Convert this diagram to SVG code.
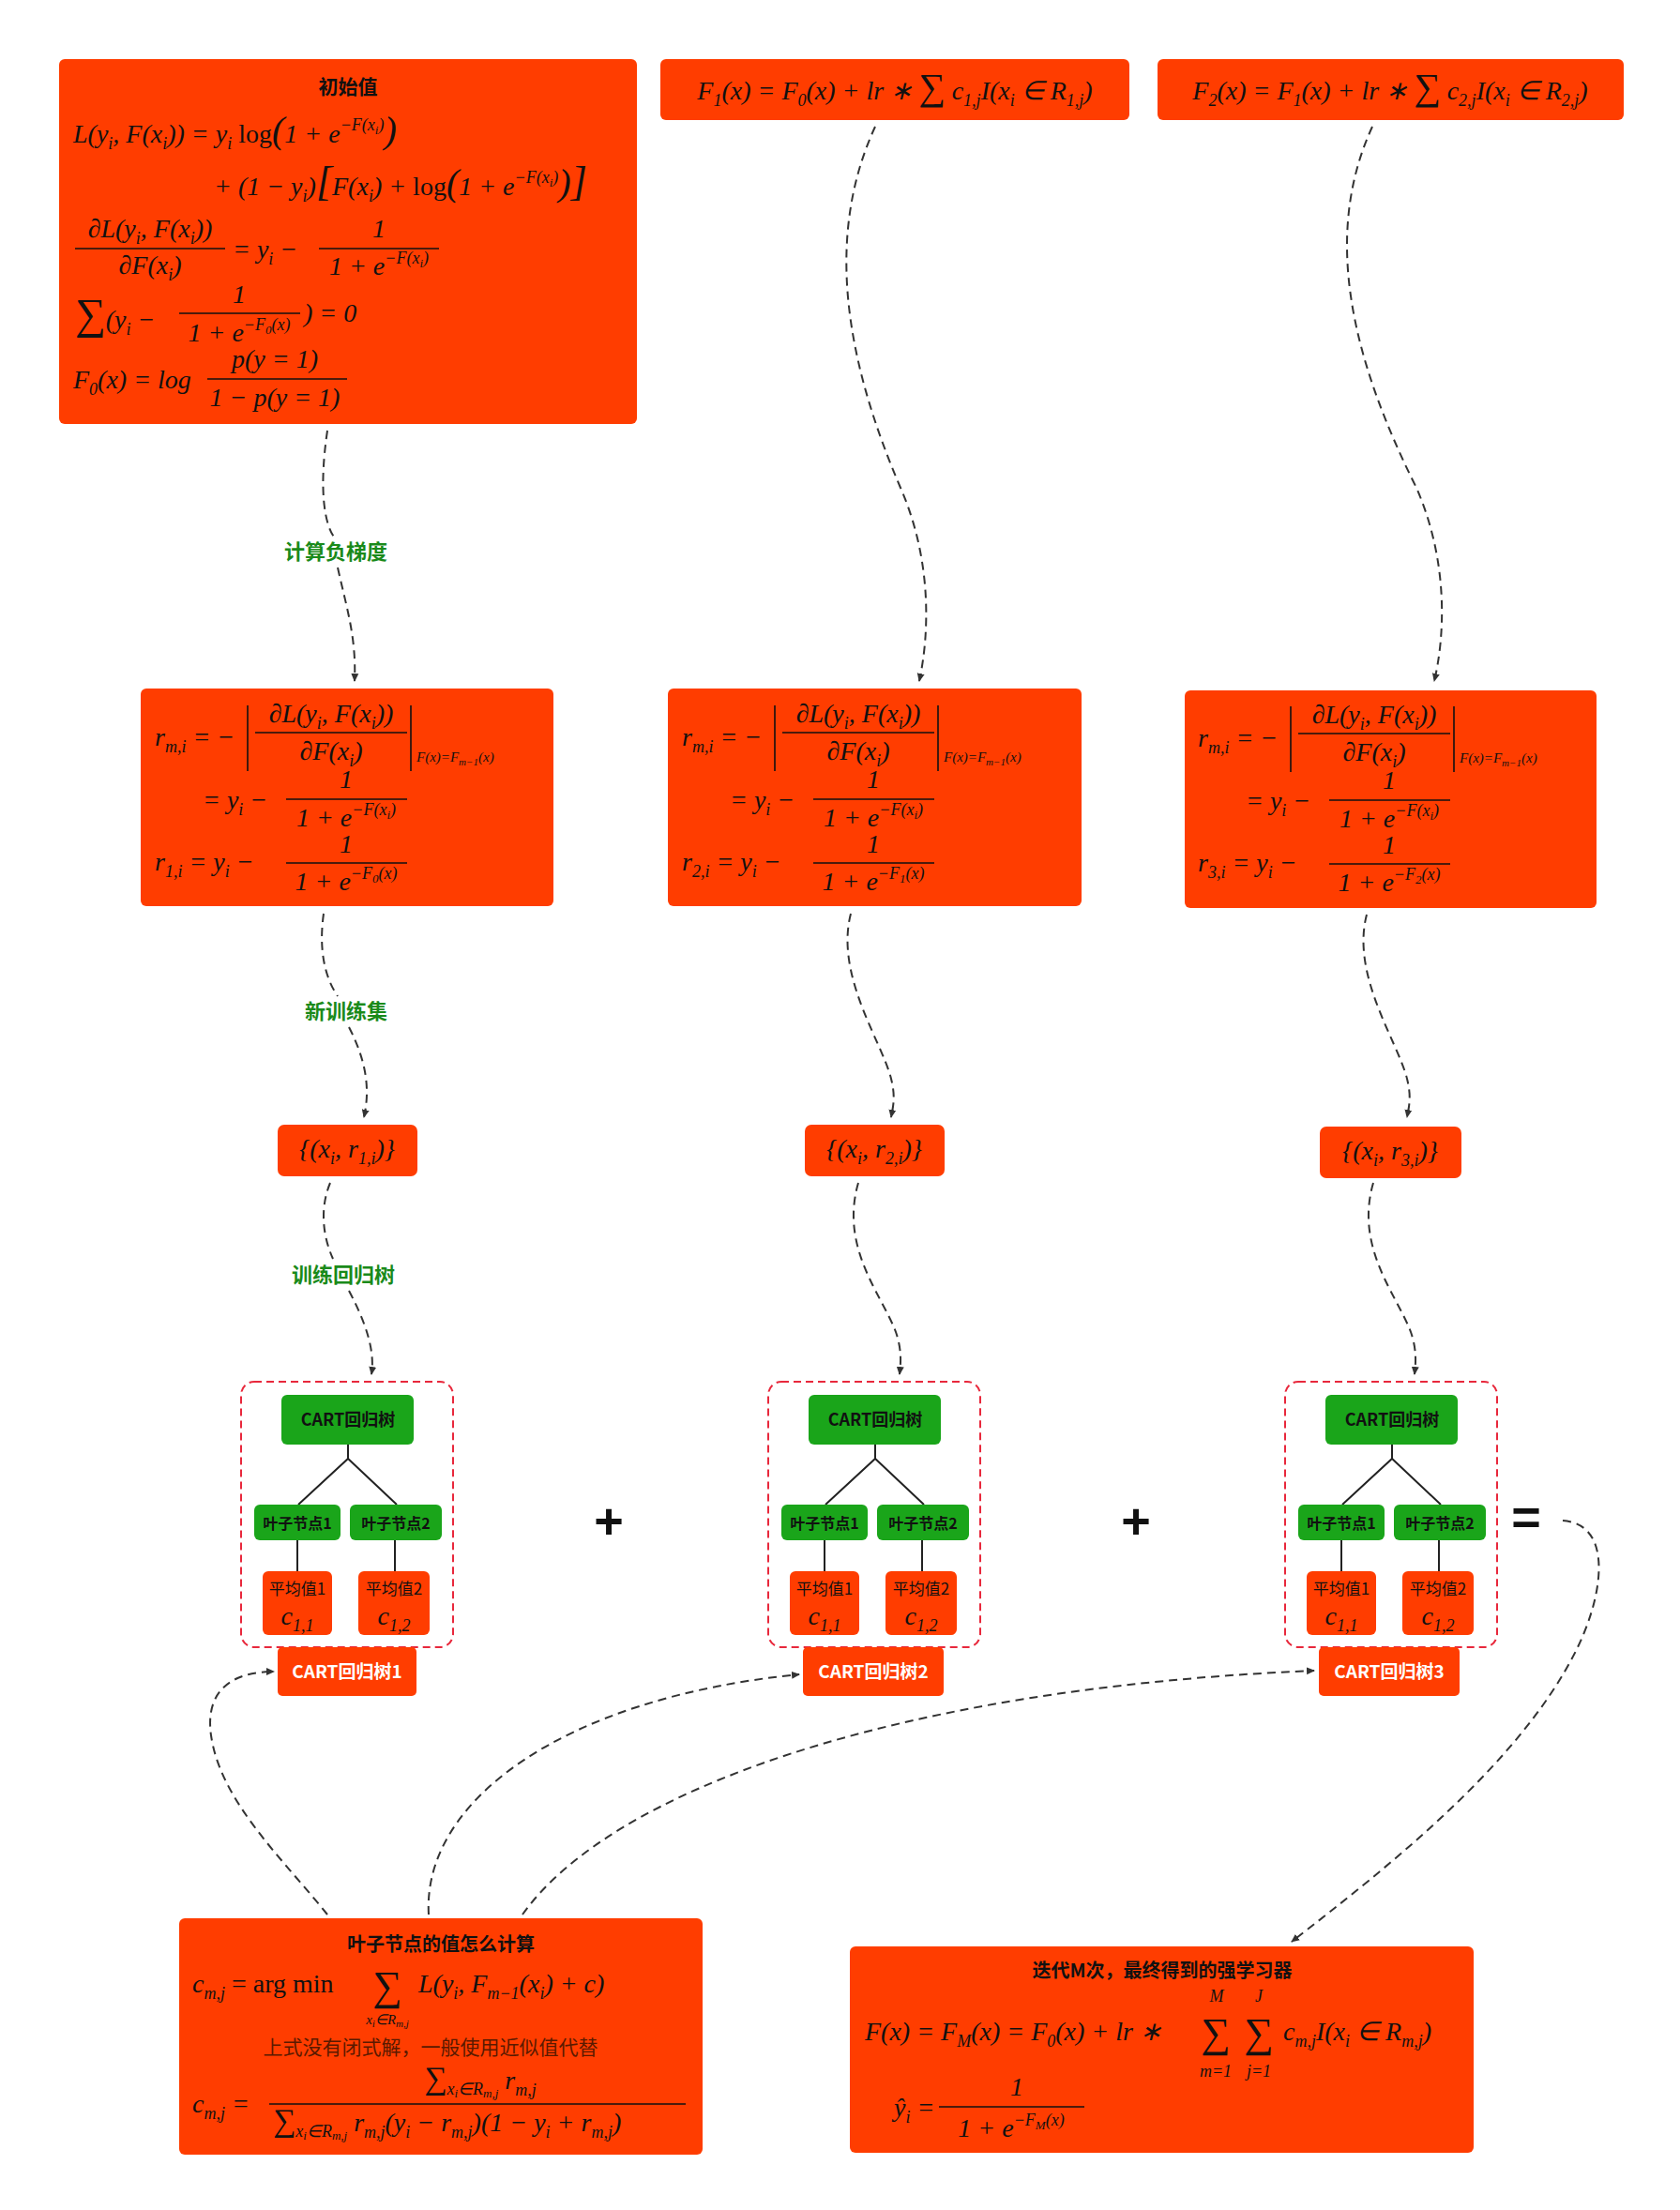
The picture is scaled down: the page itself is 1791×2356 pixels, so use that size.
<svg xmlns="http://www.w3.org/2000/svg" width="1791" height="2356" viewBox="0 0 1791 2356">
<style>
.box{fill:#ff3d00}
.m{font-family:"Liberation Serif",serif;font-style:italic;font-size:28px;fill:#111}
.s{font-size:18px}
.ss{font-size:13px}
.t{font-family:"Noto Sans CJK SC","Liberation Sans",sans-serif;font-weight:bold;font-size:21px;fill:#111;text-anchor:middle}
.lab{font-family:"Noto Sans CJK SC","Liberation Sans",sans-serif;font-weight:bold;font-size:22px;fill:#1a8a1a;text-anchor:middle}
.fl{stroke:#111;stroke-width:1.6}
.con{fill:none;stroke:#333;stroke-width:2;stroke-dasharray:9 6}
.tree{fill:none;stroke:#222;stroke-width:2}
.g{fill:#1aa51a}
.gt{font-family:"Noto Sans CJK SC","Liberation Sans",sans-serif;font-size:18px;font-weight:bold;fill:#111;text-anchor:middle}
.at{font-family:"Noto Sans CJK SC","Liberation Sans",sans-serif;font-size:17px;fill:#111;text-anchor:middle}
.wt{font-family:"Noto Sans CJK SC","Liberation Sans",sans-serif;font-size:19px;font-weight:bold;fill:#fff;text-anchor:middle}
.dash{fill:none;stroke:#e8283c;stroke-width:2;stroke-dasharray:8 5}
.op{font-family:"Liberation Sans",sans-serif;font-weight:bold;font-size:54px;fill:#111;text-anchor:middle}
.sum{font-family:"Liberation Serif",serif;font-size:44px;fill:#111;text-anchor:middle}
</style>
<defs>
<marker id="ar" markerWidth="10" markerHeight="10" refX="8" refY="5" orient="auto" markerUnits="userSpaceOnUse">
<path d="M0,1 L9,5 L0,9 z" fill="#333"/>
</marker>
<g id="rcommon">
<text class="m" x="165" y="795">r<tspan class="s" dy="7">m,i</tspan><tspan dy="-7"> = −</tspan></text>
<line class="fl" x1="264" y1="752" x2="264" y2="822"/>
<line class="fl" x1="438" y1="752" x2="438" y2="822"/>
<text class="m" x="353" y="770" text-anchor="middle">∂L(y<tspan class="s" dy="7">i</tspan><tspan dy="-7">, F(x</tspan><tspan class="s" dy="7">i</tspan><tspan dy="-7">))</tspan></text>
<line class="fl" x1="272" y1="781" x2="434" y2="781"/>
<text class="m" x="353" y="810" text-anchor="middle">∂F(x<tspan class="s" dy="7">i</tspan><tspan dy="-7">)</tspan></text>
<text class="m" x="444" y="812" style="font-size:15px">F(x)=F<tspan dy="4" style="font-size:11px">m−1</tspan><tspan dy="-4">(x)</tspan></text>
<text class="m" x="216" y="862">= y<tspan class="s" dy="7">i</tspan><tspan dy="-7"> −</tspan></text>
<text class="m" x="369" y="840" text-anchor="middle">1</text>
<line class="fl" x1="305" y1="852" x2="434" y2="852"/>
<text class="m" x="369" y="881" text-anchor="middle">1 + e<tspan class="s" dy="-12">−F(x</tspan><tspan class="ss" dy="4">i</tspan><tspan class="s" dy="-4">)</tspan></text>
<text class="m" x="369" y="909" text-anchor="middle">1</text>
<line class="fl" x1="305" y1="920" x2="434" y2="920"/>
</g>
<g id="tree">
<rect class="dash" x="257" y="1473" width="226" height="283" rx="14"/>
<rect class="g" x="300" y="1487" width="141" height="53" rx="6"/>
<text class="gt" x="371" y="1520">CART回归树</text>
<path class="tree" d="M371,1540 V1555 L318,1604 M371,1555 L423,1604 M317,1642 V1675 M421,1642 V1675"/>
<rect class="g" x="271" y="1604" width="92" height="38" rx="6"/>
<text class="gt" x="317" y="1630" style="font-size:16px">叶子节点1</text>
<rect class="g" x="373" y="1604" width="98" height="38" rx="6"/>
<text class="gt" x="422" y="1630" style="font-size:16px">叶子节点2</text>
<rect class="box" x="280" y="1675" width="74" height="68" rx="6"/>
<text class="at" x="317" y="1700">平均值1</text>
<rect class="box" x="382" y="1675" width="76" height="68" rx="6"/>
<text class="at" x="420" y="1700">平均值2</text>
</g>
</defs>

<g id="connectors">
<path class="con" d="M349,459 C340,520 345,560 358,575 M360,605 C370,650 380,680 378,726" marker-end="url(#ar)"/>
<path class="con" d="M933,135 C880,250 900,380 960,520 C995,600 990,680 980,726" marker-end="url(#ar)"/>
<path class="con" d="M1463,135 C1410,250 1440,380 1510,520 C1545,600 1540,680 1529,726" marker-end="url(#ar)"/>
<path class="con" d="M345,974 C340,1010 345,1040 360,1062 M372,1095 C390,1130 395,1160 388,1191" marker-end="url(#ar)"/>
<path class="con" d="M907,974 C890,1040 940,1110 950,1150 C955,1170 952,1180 950,1191" marker-end="url(#ar)"/>
<path class="con" d="M1457,975 C1440,1040 1490,1110 1500,1150 C1505,1170 1502,1180 1500,1191" marker-end="url(#ar)"/>
<path class="con" d="M352,1261 C340,1290 345,1320 355,1342 M372,1376 C390,1410 400,1440 396,1465" marker-end="url(#ar)"/>
<path class="con" d="M915,1261 C895,1330 940,1380 955,1420 C962,1440 960,1455 959,1465" marker-end="url(#ar)"/>
<path class="con" d="M1464,1261 C1444,1330 1489,1380 1504,1420 C1511,1440 1509,1455 1508,1465" marker-end="url(#ar)"/>
<path class="con" d="M349,2041 C300,1980 235,1920 225,1850 C218,1800 250,1782 292,1782" marker-end="url(#ar)"/>
<path class="con" d="M457,2041 C450,1920 600,1810 852,1785" marker-end="url(#ar)"/>
<path class="con" d="M557,2041 C650,1910 950,1800 1401,1781" marker-end="url(#ar)"/>
<path class="con" d="M1666,1621 C1720,1625 1710,1700 1680,1760 C1620,1880 1480,1990 1377,2070" marker-end="url(#ar)"/>
</g>
<text class="lab" x="358" y="596">计算负梯度</text>
<text class="lab" x="369" y="1086">新训练集</text>
<text class="lab" x="366" y="1367">训练回归树</text>

<g id="init">
<rect class="box" x="63" y="63" width="616" height="389" rx="6"/>
<text class="t" x="371" y="100">初始值</text>
<text class="m" x="78" y="152">L(y<tspan class="s" dy="7">i</tspan><tspan dy="-7">, F(x</tspan><tspan class="s" dy="7">i</tspan><tspan dy="-7">)) = y</tspan><tspan class="s" dy="7">i</tspan><tspan dy="-7" font-style="normal"> log</tspan><tspan style="font-size:40px">(</tspan><tspan>1 + e</tspan><tspan class="s" dy="-13">−F(x</tspan><tspan class="ss" dy="4">i</tspan><tspan class="s" dy="-4">)</tspan><tspan dy="13" style="font-size:40px">)</tspan></text>
<text class="m" x="228" y="208">+ (1 − y<tspan class="s" dy="7">i</tspan><tspan dy="-7">)</tspan><tspan style="font-size:44px">[</tspan><tspan>F(x</tspan><tspan class="s" dy="7">i</tspan><tspan dy="-7">) + </tspan><tspan font-style="normal">log</tspan><tspan style="font-size:40px">(</tspan><tspan>1 + e</tspan><tspan class="s" dy="-13">−F(x</tspan><tspan class="ss" dy="4">i</tspan><tspan class="s" dy="-4">)</tspan><tspan dy="13" style="font-size:40px">)</tspan><tspan style="font-size:44px">]</tspan></text>
<text class="m" x="160" y="253" text-anchor="middle">∂L(y<tspan class="s" dy="7">i</tspan><tspan dy="-7">, F(x</tspan><tspan class="s" dy="7">i</tspan><tspan dy="-7">))</tspan></text>
<line class="fl" x1="80" y1="265" x2="240" y2="265"/>
<text class="m" x="160" y="292" text-anchor="middle">∂F(x<tspan class="s" dy="7">i</tspan><tspan dy="-7">)</tspan></text>
<text class="m" x="248" y="275">= y<tspan class="s" dy="7">i</tspan><tspan dy="-7"> −</tspan></text>
<text class="m" x="404" y="253" text-anchor="middle">1</text>
<line class="fl" x1="340" y1="265" x2="468" y2="265"/>
<text class="m" x="404" y="293" text-anchor="middle">1 + e<tspan class="s" dy="-12">−F(x</tspan><tspan class="ss" dy="4">i</tspan><tspan class="s" dy="-4">)</tspan></text>
<text class="m" x="80" y="350"><tspan style="font-size:46px;font-style:normal">∑</tspan><tspan>(y</tspan><tspan class="s" dy="7">i</tspan><tspan dy="-7"> −</tspan></text>
<text class="m" x="255" y="323" text-anchor="middle">1</text>
<line class="fl" x1="191" y1="334" x2="320" y2="334"/>
<text class="m" x="255" y="364" text-anchor="middle">1 + e<tspan class="s" dy="-12">−F</tspan><tspan class="ss" dy="4">0</tspan><tspan class="s" dy="-4">(x)</tspan></text>
<text class="m" x="324" y="343">) = 0</text>
<text class="m" x="78" y="414">F<tspan class="s" dy="7">0</tspan><tspan dy="-7">(x) = log</tspan></text>
<text class="m" x="293" y="392" text-anchor="middle">p(y = 1)</text>
<line class="fl" x1="221" y1="404" x2="370" y2="404"/>
<text class="m" x="293" y="433" text-anchor="middle">1 − p(y = 1)</text>
</g>

<g id="f1">
<rect class="box" x="704" y="63" width="500" height="65" rx="6"/>
<text class="m" x="954" y="106" text-anchor="middle">F<tspan class="s" dy="7">1</tspan><tspan dy="-7">(x) = F</tspan><tspan class="s" dy="7">0</tspan><tspan dy="-7">(x) + lr ∗ </tspan><tspan style="font-size:40px;font-style:normal">∑</tspan><tspan> c</tspan><tspan class="s" dy="7">1,j</tspan><tspan dy="-7">I(x</tspan><tspan class="s" dy="7">i</tspan><tspan dy="-7"> ∈ R</tspan><tspan class="s" dy="7">1,j</tspan><tspan dy="-7">)</tspan></text>
</g>
<g id="f2">
<rect class="box" x="1234" y="63" width="497" height="65" rx="6"/>
<text class="m" x="1482" y="106" text-anchor="middle">F<tspan class="s" dy="7">2</tspan><tspan dy="-7">(x) = F</tspan><tspan class="s" dy="7">1</tspan><tspan dy="-7">(x) + lr ∗ </tspan><tspan style="font-size:40px;font-style:normal">∑</tspan><tspan> c</tspan><tspan class="s" dy="7">2,j</tspan><tspan dy="-7">I(x</tspan><tspan class="s" dy="7">i</tspan><tspan dy="-7"> ∈ R</tspan><tspan class="s" dy="7">2,j</tspan><tspan dy="-7">)</tspan></text>
</g>

<g id="r1">
<rect class="box" x="150" y="734" width="440" height="232" rx="6"/>
<use href="#rcommon"/>
<text class="m" x="165" y="928">r<tspan class="s" dy="7">1,i</tspan><tspan dy="-7"> = y</tspan><tspan class="s" dy="7">i</tspan><tspan dy="-7"> −</tspan></text>
<text class="m" x="369" y="949" text-anchor="middle">1 + e<tspan class="s" dy="-12">−F</tspan><tspan class="ss" dy="4">0</tspan><tspan class="s" dy="-4">(x)</tspan></text>
</g>
<g id="r2">
<rect class="box" x="712" y="734" width="441" height="232" rx="6"/>
<use href="#rcommon" transform="translate(562,0)"/>
<text class="m" x="727" y="928">r<tspan class="s" dy="7">2,i</tspan><tspan dy="-7"> = y</tspan><tspan class="s" dy="7">i</tspan><tspan dy="-7"> −</tspan></text>
<text class="m" x="931" y="949" text-anchor="middle">1 + e<tspan class="s" dy="-12">−F</tspan><tspan class="ss" dy="4">1</tspan><tspan class="s" dy="-4">(x)</tspan></text>
</g>
<g id="r3">
<rect class="box" x="1263" y="736" width="439" height="232" rx="6"/>
<use href="#rcommon" transform="translate(1112,1)"/>
<text class="m" x="1277" y="929">r<tspan class="s" dy="7">3,i</tspan><tspan dy="-7"> = y</tspan><tspan class="s" dy="7">i</tspan><tspan dy="-7"> −</tspan></text>
<text class="m" x="1481" y="950" text-anchor="middle">1 + e<tspan class="s" dy="-12">−F</tspan><tspan class="ss" dy="4">2</tspan><tspan class="s" dy="-4">(x)</tspan></text>
</g>

<g id="set1"><rect class="box" x="296" y="1199" width="149" height="55" rx="7"/>
<text class="m" x="370" y="1234" text-anchor="middle">{(x<tspan class="s" dy="7">i</tspan><tspan dy="-7">, r</tspan><tspan class="s" dy="7">1,i</tspan><tspan dy="-7">)}</tspan></text></g>
<g id="set2"><rect class="box" x="858" y="1199" width="149" height="55" rx="7"/>
<text class="m" x="932" y="1234" text-anchor="middle">{(x<tspan class="s" dy="7">i</tspan><tspan dy="-7">, r</tspan><tspan class="s" dy="7">2,i</tspan><tspan dy="-7">)}</tspan></text></g>
<g id="set3"><rect class="box" x="1407" y="1201" width="151" height="55" rx="7"/>
<text class="m" x="1482" y="1236" text-anchor="middle">{(x<tspan class="s" dy="7">i</tspan><tspan dy="-7">, r</tspan><tspan class="s" dy="7">3,i</tspan><tspan dy="-7">)}</tspan></text></g>

<g id="tree1"><use href="#tree"/>
<text class="m" x="317" y="1732" text-anchor="middle">c<tspan class="s" dy="7">1,1</tspan></text>
<text class="m" x="420" y="1732" text-anchor="middle">c<tspan class="s" dy="7">1,2</tspan></text>
<rect class="box" x="296" y="1756" width="148" height="52" rx="5"/><text class="wt" x="370" y="1789">CART回归树1</text></g>
<g id="tree2"><use href="#tree" transform="translate(562,0)"/>
<text class="m" x="879" y="1732" text-anchor="middle">c<tspan class="s" dy="7">1,1</tspan></text>
<text class="m" x="982" y="1732" text-anchor="middle">c<tspan class="s" dy="7">1,2</tspan></text>
<rect class="box" x="856" y="1756" width="150" height="52" rx="5"/><text class="wt" x="931" y="1789">CART回归树2</text></g>
<g id="tree3"><use href="#tree" transform="translate(1113,0)"/>
<text class="m" x="1430" y="1732" text-anchor="middle">c<tspan class="s" dy="7">1,1</tspan></text>
<text class="m" x="1533" y="1732" text-anchor="middle">c<tspan class="s" dy="7">1,2</tspan></text>
<rect class="box" x="1406" y="1756" width="150" height="52" rx="5"/><text class="wt" x="1481" y="1789">CART回归树3</text></g>

<text class="op" x="649" y="1640">+</text>
<text class="op" x="1211" y="1640">+</text>
<text class="op" x="1627" y="1636">=</text>

<g id="leafcalc">
<rect class="box" x="191" y="2045" width="558" height="252" rx="6"/>
<text class="t" x="470" y="2080" style="font-size:20px">叶子节点的值怎么计算</text>
<text class="m" x="205" y="2124">c<tspan class="s" dy="7">m,j</tspan><tspan dy="-7" font-style="normal"> = arg min</tspan></text>
<text class="sum" x="413" y="2132">∑</text>
<text class="m" x="446" y="2124">L(y<tspan class="s" dy="7">i</tspan><tspan dy="-7">, F</tspan><tspan class="s" dy="7">m−1</tspan><tspan dy="-7">(x</tspan><tspan class="s" dy="7">i</tspan><tspan dy="-7">) + c)</tspan></text>
<text class="m" x="413" y="2158" text-anchor="middle" style="font-size:15px">x<tspan dy="3" style="font-size:11px">i</tspan><tspan dy="-3">∈R</tspan><tspan dy="3" style="font-size:11px">m,j</tspan></text>
<text x="459" y="2190" text-anchor="middle" style="font-family:'Noto Sans CJK SC',sans-serif;font-size:21px;fill:#5a1a00">上式没有闭式解，一般使用近似值代替</text>
<text class="m" x="512" y="2227" text-anchor="middle"><tspan style="font-size:34px;font-style:normal">∑</tspan><tspan class="s" dy="6">x</tspan><tspan class="ss" dy="3">i</tspan><tspan class="s" dy="-3">∈R</tspan><tspan class="ss" dy="3">m,j</tspan><tspan dy="-9"> r</tspan><tspan class="s" dy="7">m,j</tspan></text>
<text class="m" x="205" y="2252">c<tspan class="s" dy="7">m,j</tspan><tspan dy="-7"> =</tspan></text>
<line class="fl" x1="287" y1="2243" x2="731" y2="2243"/>
<text class="m" x="291" y="2272"><tspan style="font-size:34px;font-style:normal">∑</tspan><tspan class="s" dy="6">x</tspan><tspan class="ss" dy="3">i</tspan><tspan class="s" dy="-3">∈R</tspan><tspan class="ss" dy="3">m,j</tspan><tspan dy="-9"> r</tspan><tspan class="s" dy="7">m,j</tspan><tspan dy="-7">(y</tspan><tspan class="s" dy="7">i</tspan><tspan dy="-7"> − r</tspan><tspan class="s" dy="7">m,j</tspan><tspan dy="-7">)(1 − y</tspan><tspan class="s" dy="7">i</tspan><tspan dy="-7"> + r</tspan><tspan class="s" dy="7">m,j</tspan><tspan dy="-7">)</tspan></text>
</g>

<g id="final">
<rect class="box" x="906" y="2075" width="665" height="220" rx="6"/>
<text class="t" x="1239" y="2108" style="font-size:20px">迭代M次，最终得到的强学习器</text>
<text class="m" x="922" y="2175">F(x) = F<tspan class="s" dy="7">M</tspan><tspan dy="-7">(x) = F</tspan><tspan class="s" dy="7">0</tspan><tspan dy="-7">(x) + lr ∗</tspan></text>
<text class="sum" x="1296" y="2182">∑</text>
<text class="sum" x="1342" y="2182">∑</text>
<text class="m" x="1368" y="2175">c<tspan class="s" dy="7">m,j</tspan><tspan dy="-7">I(x</tspan><tspan class="s" dy="7">i</tspan><tspan dy="-7"> ∈ R</tspan><tspan class="s" dy="7">m,j</tspan><tspan dy="-7">)</tspan></text>
<text class="m s" x="1297" y="2134" text-anchor="middle">M</text>
<text class="m s" x="1342" y="2134" text-anchor="middle">J</text>
<text class="m s" x="1296" y="2214" text-anchor="middle">m=1</text>
<text class="m s" x="1342" y="2214" text-anchor="middle">j=1</text>
<text class="m" x="953" y="2256">ŷ<tspan class="s" dy="7">i</tspan><tspan dy="-7"> =</tspan></text>
<text class="m" x="1084" y="2234" text-anchor="middle">1</text>
<line class="fl" x1="1001" y1="2246" x2="1156" y2="2246"/>
<text class="m" x="1078" y="2278" text-anchor="middle">1 + e<tspan class="s" dy="-12">−F</tspan><tspan class="ss" dy="4">M</tspan><tspan class="s" dy="-4">(x)</tspan></text>
</g>
</svg>
